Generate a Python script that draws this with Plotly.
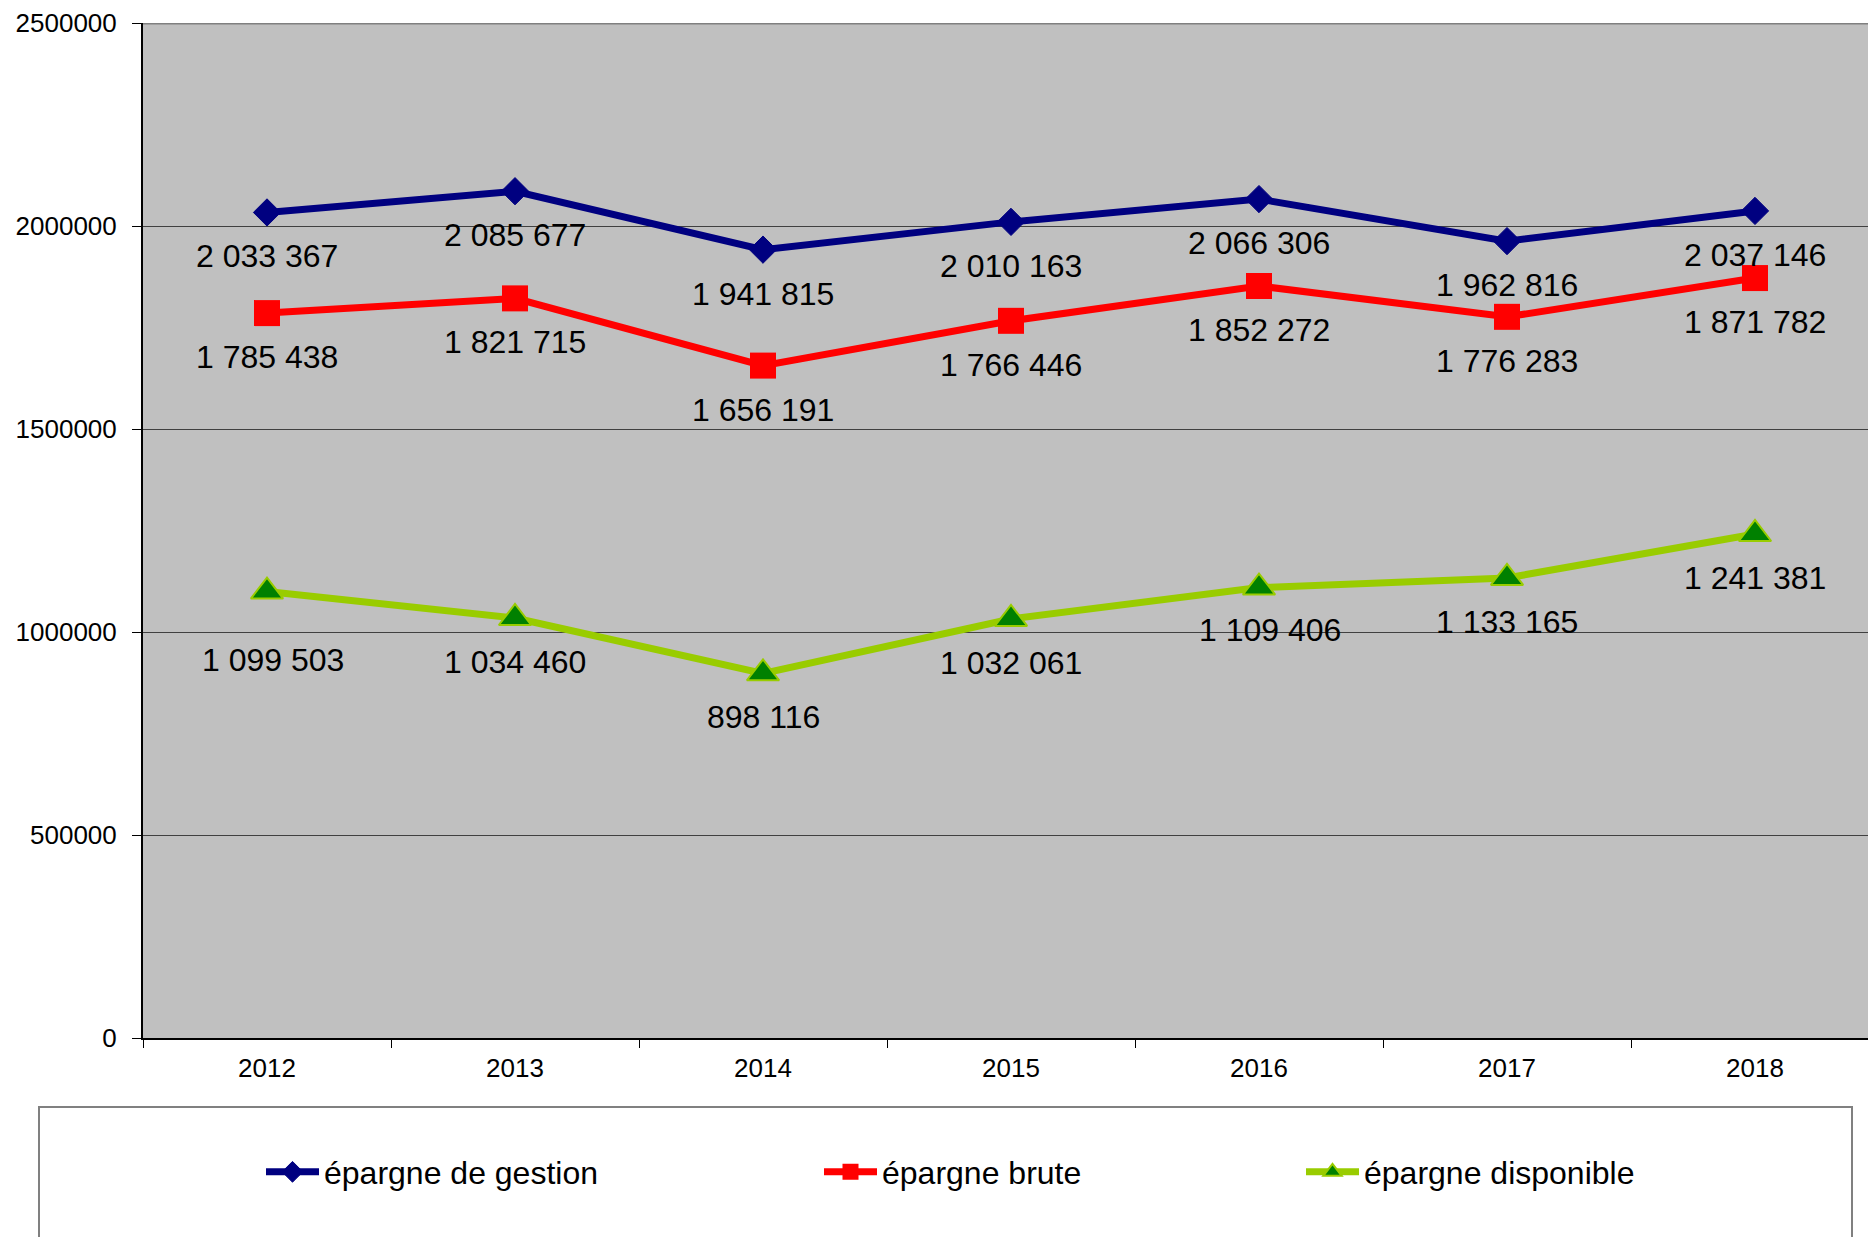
import plotly.graph_objects as go

# ---- data ----
years = ["2012", "2013", "2014", "2015", "2016", "2017", "2018"]
epargne_gestion = [2033367, 2085677, 1941815, 2010163, 2066306, 1962816, 2037146]
epargne_brute = [1785438, 1821715, 1656191, 1766446, 1852272, 1776283, 1871782]
epargne_disponible = [1099503, 1034460, 898116, 1032061, 1109406, 1133165, 1241381]
y_tick_values = [0, 500000, 1000000, 1500000, 2000000, 2500000]
y_tick_labels = ["0", "500000", "1000000", "1500000", "2000000", "2500000"]
series_names = ["épargne de gestion", "épargne brute", "épargne disponible"]

# ---- geometry (screen pixels) ----
W, H = 1868, 1237
PL, PT, PR, PB = 143, 23, 1868, 1038


def px_x(px):
    return (px - PL) / (PR - PL)


def px_y(py):
    return (PB - py) / (PB - PT)


FONT = "Liberation Sans, Arial, sans-serif"

fig = go.Figure()

styles = [
    dict(line=dict(color="#000080", width=7),
         marker=dict(symbol="diamond", size=21, color="#000080",
                     line=dict(color="#000080", width=1))),
    dict(line=dict(color="#FF0000", width=7),
         marker=dict(symbol="square", size=26, color="#FF0000",
                     line=dict(color="#FF0000", width=0))),
    dict(line=dict(color="#99CC00", width=7),
         marker=dict(symbol="triangle-up", size=28, color="#008000",
                     line=dict(color="#99CC00", width=2))),
]
legend_ids = ["legend", "legend2", "legend3"]
series = [epargne_gestion, epargne_brute, epargne_disponible]

for name, vals, st, lg in zip(series_names, series, styles, legend_ids):
    fig.add_trace(go.Scatter(x=years, y=vals, name=name, mode="lines+markers",
                             line=st["line"], marker=st["marker"],
                             legend=lg, cliponaxis=False))

# data labels below each point
label_nudge = {(2, 0): (6, -68), (2, 4): (11, -42)}
for si, vals in enumerate(series):
    for i, v in enumerate(vals):
        dx, dy = label_nudge.get((si, i), (0, -44))
        fig.add_annotation(x=i, y=v, xref="x", yref="y",
                           text=f"{v:,}".replace(",", " "),
                           showarrow=False, xanchor="center", yanchor="middle",
                           xshift=dx, yshift=dy,
                           font=dict(family=FONT, size=32, color="black"))

# legend box
fig.add_shape(type="rect", xref="paper", yref="paper",
              x0=px_x(39), x1=px_x(1852), y0=px_y(1107), y1=px_y(1260),
              line=dict(color="#808080", width=2), fillcolor="white", layer="below")
# top border of plot
fig.add_shape(type="line", xref="paper", yref="y", x0=0, x1=1,
              y0=y_tick_values[-1], y1=y_tick_values[-1],
              line=dict(color="#808080", width=3))

leg_common = dict(orientation="h", yanchor="middle", xanchor="left",
                  bgcolor="rgba(0,0,0,0)", borderwidth=0,
                  font=dict(family=FONT, size=32, color="black"),
                  itemwidth=53)
leg_x = [261, 819, 1301]
fig.update_layout(
    legend=dict(x=px_x(leg_x[0]), y=px_y(1172), **leg_common),
    legend2=dict(x=px_x(leg_x[1]), y=px_y(1172), **leg_common),
    legend3=dict(x=px_x(leg_x[2]), y=px_y(1172), **leg_common),
)

fig.update_layout(
    width=W, height=H,
    margin=dict(l=PL, r=W - PR, t=PT, b=H - PB, pad=0),
    paper_bgcolor="white", plot_bgcolor="#C0C0C0",
    font=dict(family=FONT, color="black"),
    showlegend=True,
)
fig.update_xaxes(type="category", range=[-0.5, (PR - PL) / 248 - 0.5],
                 tickson="boundaries", ticks="outside", ticklen=8, tickwidth=1,
                 tickcolor="black", showline=True, linecolor="black", linewidth=2,
                 showgrid=False, zeroline=False, ticklabelstandoff=6,
                 tickfont=dict(family=FONT, size=26, color="black"))
fig.update_yaxes(range=[0, 2500000], tickvals=y_tick_values, ticktext=y_tick_labels,
                 ticks="outside", ticklen=9, tickwidth=1, tickcolor="black",
                 ticklabelstandoff=10,
                 showline=True, linecolor="black", linewidth=2,
                 showgrid=True, gridcolor="#404040", gridwidth=1, zeroline=False,
                 tickfont=dict(family=FONT, size=26, color="black"))

fig.write_html(
    "out.html",
    config={"displayModeBar": False},
    post_script="document.body.style.margin='0';document.body.style.overflow='hidden';",
)
